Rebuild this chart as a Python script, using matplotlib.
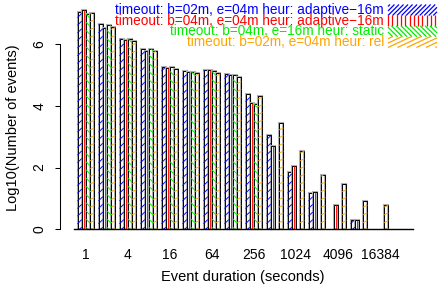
import numpy as np
import matplotlib.pyplot as plt
from matplotlib.collections import LineCollection
from matplotlib.patches import Rectangle

plt.rcParams['font.family'] = ['Liberation Sans', 'DejaVu Sans']

# event duration bins (seconds), only every other one gets a label
durations = ['1', '2', '4', '8', '16', '32', '64', '128', '256', '512',
             '1024', '2048', '4096', '8192', '16384', '32768']

# log10 of number of events per bin
adaptive_b02 = [7.02, 6.63, 6.17, 5.83, 5.24, 5.12, 5.15, 5.03, 4.37, 3.04, 1.84, 1.17, 0, 0.29, 0, 0]
adaptive_b04 = [7.09, 6.51, 6.13, 5.78, 5.21, 5.09, 5.15, 5.01, 4.08, 2.69, 2.04, 1.20, 0.78, 0.29, 0, 0]
static_e16 = [6.97, 6.61, 6.16, 5.84, 5.25, 5.09, 5.11, 5.00, 4.05, 0, 0, 0, 0, 0, 0, 0]
rel_b02 = [6.99, 6.56, 6.10, 5.76, 5.19, 5.05, 5.06, 4.94, 4.31, 3.43, 2.53, 1.75, 1.46, 0.91, 0.78, 0]

series = [adaptive_b02, adaptive_b04, static_e16, rel_b02]
names = ['timeout: b=02m, e=04m heur: adaptive\u221216m',
         'timeout: b=04m, e=04m heur: adaptive\u221216m',
         'timeout: b=04m, e=16m heur: static',
         'timeout: b=02m, e=04m heur: rel']
colors = ['#0000FF', '#FF0000', '#00EE00', '#FFA500']
angles = [45, 90, -45, 25]
steps = [5.4, 5.0, 5.8, 7.0]        # hatch spacing in pixels (bars)
legend_steps = [3.2, 4.3, 3.4, 4.0]

W, H = 444, 291
fig = plt.figure(figsize=(W / 100, H / 100), dpi=100)

# plot region in pixels (R-like barplot layout)
px0, px1 = 60, 427
py_bot, py_top = 238, 1.6
ax = fig.add_axes([px0 / W, 1 - py_bot / H, (px1 - px0) / W, (py_bot - py_top) / H])
ax.set_xlim(-3.17, 84.2)
ax.set_ylim(-0.28, 7.37)


def hatch_segments(x0, y0, x1, y1, angle, step, ox, oy):
    # parallel lines through (ox, oy) + k*step*normal, clipped to the box
    th = np.radians(angle)
    u = np.array([np.cos(th), np.sin(th)])
    n = np.array([-np.sin(th), np.cos(th)])
    o = np.array([ox, oy])
    corners = np.array([[x0, y0], [x1, y0], [x0, y1], [x1, y1]]) - o
    p = corners @ n
    segs = []
    for k in range(int(np.floor(p.min() / step)), int(np.ceil(p.max() / step)) + 1):
        c = o + k * step * n
        lo, hi = -1e9, 1e9
        ok = True
        for d, a, b, cc in ((u[0], x0, x1, c[0]), (u[1], y0, y1, c[1])):
            if abs(d) < 1e-9:
                if cc < a or cc > b:
                    ok = False
                continue
            t1, t2 = (a - cc) / d, (b - cc) / d
            lo, hi = max(lo, min(t1, t2)), min(hi, max(t1, t2))
        if ok and hi > lo:
            segs.append([c + lo * u, c + hi * u])
    return segs


fig.canvas.draw()
to_px = ax.transData
to_data = ax.transData.inverted()

for j, vals in enumerate(series):
    for g, v in enumerate(vals):
        if v <= 0:
            continue
        xl = g * 5 + 1 + j
        (a0, b0) = to_px.transform((xl, 0))
        (a1, b1) = to_px.transform((xl + 1, v))
        segs = hatch_segments(a0, b0, a1, b1, angles[j], steps[j], (a0 + a1) / 2, b0)
        segs = [to_data.transform(np.array(s)) for s in segs]
        ax.add_collection(LineCollection(segs, colors=colors[j], linewidths=0.65), autolim=False)
        ax.add_patch(Rectangle((xl, 0), 1, v, fill=False, edgecolor='#b0b0b0', lw=1.5))
        ax.add_patch(Rectangle((xl, 0), 1, v, fill=False, edgecolor='black', lw=0.7))

ax.plot([0.1, 80.9], [0, 0], color='black', lw=1.0, clip_on=False)

for s in ['top', 'right', 'bottom']:
    ax.spines[s].set_visible(False)
ax.spines['left'].set_bounds(0, 6)
ax.spines['left'].set_linewidth(0.75)
ax.set_yticks([0, 2, 4, 6])
ax.tick_params(axis='y', length=3.6, width=0.75, labelsize=10, pad=6)
for t in ax.get_yticklabels():
    t.set_rotation(90)
    t.set_va('center')

centers = [g * 5 + 3 for g in range(len(durations))]
ax.set_xticks(centers[::2])
ax.set_xticklabels(durations[::2])
ax.tick_params(axis='x', length=0, labelsize=10, pad=7)

fig.text(243 / W, 1 - 277 / H, 'Event duration (seconds)', ha='center', va='center', fontsize=10.5)
fig.text(13 / W, 1 - 128 / H, 'Log10(Number of events)', ha='center', va='center',
         rotation=90, fontsize=10.5)

# legend: coloured text on the left of hatched swatches
rows = [10, 20.7, 31.3, 42]
for j in range(4):
    fig.text(384 / W, 1 - rows[j] / H, names[j], ha='right', va='center',
             fontsize=9.8, color=colors[j])
    sx0, sx1 = 388, 437
    sy0, sy1 = H - (rows[j] + 5.5), H - (rows[j] - 5.5)
    segs = hatch_segments(sx0, sy0, sx1, sy1, angles[j], legend_steps[j], sx0, sy0)
    segs = [[(x / W, y / H) for x, y in s] for s in segs]
    fig.add_artist(LineCollection(segs, colors=colors[j], linewidths=0.9,
                                  transform=fig.transFigure))

fig.savefig('out.png', dpi=100)
